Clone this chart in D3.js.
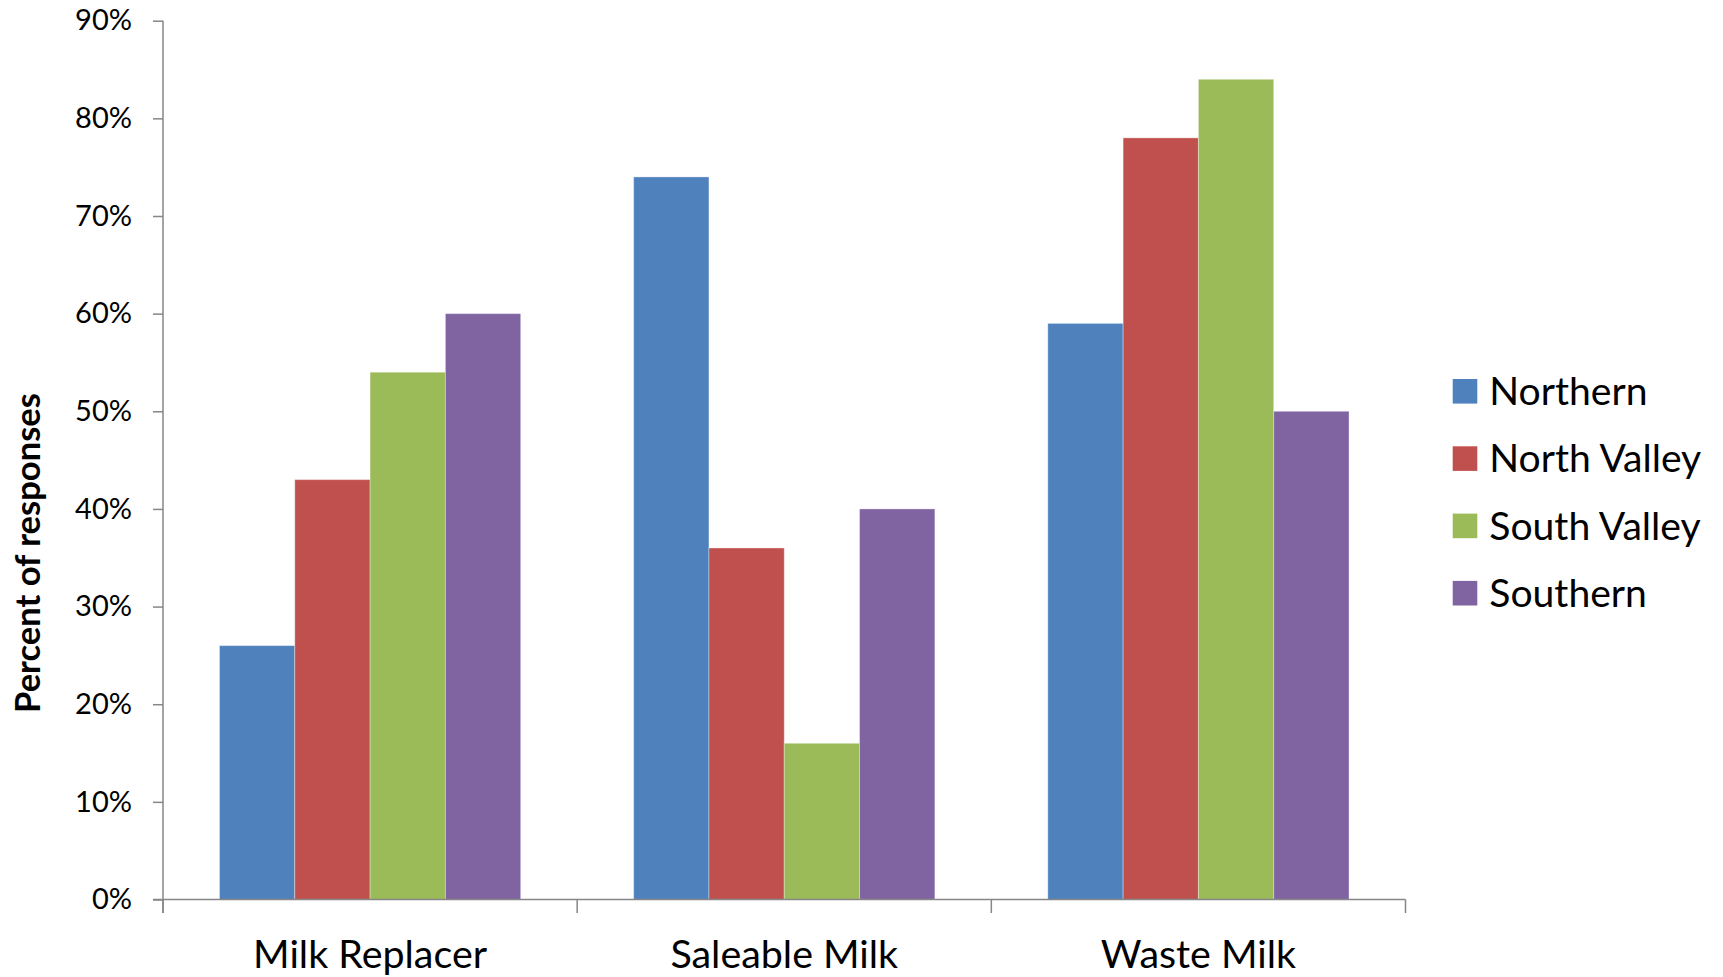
<!DOCTYPE html>
<html>
<head>
<meta charset="utf-8">
<script src="https://cdn.jsdelivr.net/npm/d3@7"></script>
<style>
  html, body { margin: 0; padding: 0; background: #fff; }
  svg { display: block; }
  text { font-family: Lato, "Open Sans", sans-serif; fill: #000; }
</style>
</head>
<body>
<svg id="chart" width="1723" height="977"></svg>
<script>
const categories = ["Milk Replacer", "Saleable Milk", "Waste Milk"];
const seriesNames = ["Northern", "North Valley", "South Valley", "Southern"];
const seriesColors = ["#4F81BD", "#C0504D", "#9BBB59", "#8064A2"];
const northern    = [0.26, 0.74, 0.59];
const northValley = [0.43, 0.36, 0.78];
const southValley = [0.54, 0.16, 0.84];
const southern    = [0.60, 0.40, 0.50];
const seriesValues = [northern, northValley, southValley, southern];
const yTicks = [0, 0.1, 0.2, 0.3, 0.4, 0.5, 0.6, 0.7, 0.8, 0.9];
const yTitle = "Percent of responses";

const svg = d3.select("#chart");
const axisColor = "#868686";

const x0 = d3.scaleBand().domain(categories).range([163, 1405.5]).paddingInner(0).paddingOuter(0);
const x1 = d3.scaleBand().domain(seriesNames).range([0, x0.bandwidth()]).paddingInner(0).paddingOuter(0.75);
const y = d3.scaleLinear().domain([0, 0.9]).range([899.5, 20.7]);

function fit(sel, target) {
  const n = sel.node();
  const base = parseFloat(n.getAttribute("font-size"));
  const w = n.getComputedTextLength();
  return base * target / w;
}

// Bars
const data = [];
categories.forEach((c, ci) => {
  seriesNames.forEach((s, si) => {
    data.push({ cat: c, series: s, value: seriesValues[si][ci], color: seriesColors[si] });
  });
});
svg.append("g").selectAll("rect").data(data).join("rect")
  .attr("x", d => x0(d.cat) + x1(d.series))
  .attr("width", x1.bandwidth())
  .attr("y", d => y(d.value))
  .attr("height", d => y(0) - y(d.value))
  .attr("fill", d => d.color)
  .attr("stroke", "#ffffff")
  .attr("stroke-opacity", 0.35)
  .attr("stroke-width", 1);

// Y axis
const yAxis = svg.append("g")
  .attr("transform", `translate(${x0.range()[0]},0)`)
  .call(d3.axisLeft(y).tickValues(yTicks).tickFormat(d3.format(".0%")).tickSize(10).tickPadding(21));
yAxis.select(".domain").remove();
yAxis.selectAll(".tick line").attr("stroke", axisColor).attr("stroke-width", 1.5);
yAxis.selectAll(".tick text").attr("font-family", "Lato, 'Open Sans', sans-serif").attr("fill", "#000");
{
  const t = yAxis.selectAll(".tick text").filter(d => d === 0.9);
  t.attr("font-size", 30);
  const fs = fit(t, 55) + 1;
  yAxis.selectAll(".tick text").attr("font-size", fs);
}
svg.append("line")
  .attr("x1", x0.range()[0]).attr("x2", x0.range()[0])
  .attr("y1", y(0.9)).attr("y2", y(0) + 13.5)
  .attr("stroke", axisColor).attr("stroke-width", 1.5);

// X axis
svg.append("line")
  .attr("x1", x0.range()[0] - 10).attr("x2", x0.range()[1])
  .attr("y1", y(0)).attr("y2", y(0))
  .attr("stroke", axisColor).attr("stroke-width", 1.5);
const bounds = categories.map(c => x0(c)).concat([x0.range()[1]]);
svg.append("g").selectAll("line").data(bounds).join("line")
  .attr("x1", d => d).attr("x2", d => d)
  .attr("y1", y(0)).attr("y2", y(0) + 13.5)
  .attr("stroke", axisColor).attr("stroke-width", 1.5);

const catLabels = svg.append("g").selectAll("text").data(categories).join("text")
  .attr("x", d => x0(d) + x0.bandwidth() / 2)
  .attr("y", 968)
  .attr("text-anchor", "middle")
  .attr("font-size", 40)
  .text(d => d);
{
  const fs = fit(catLabels.filter(d => d === "Milk Replacer"), 234);
  catLabels.attr("font-size", fs);
}

// Y title
const title = svg.append("text")
  .attr("transform", "translate(40,553) rotate(-90)")
  .attr("text-anchor", "middle")
  .attr("font-weight", "bold")
  .attr("font-size", 36)
  .text(yTitle);
title.attr("font-size", fit(title, 320));

// Legend
const legend = svg.append("g");
const items = legend.selectAll("g").data(seriesNames).join("g")
  .attr("transform", (d, i) => `translate(1452.7, ${379 + i * 67.3})`);
items.append("rect")
  .attr("width", 24.6).attr("height", 24.6)
  .attr("fill", (d, i) => seriesColors[i]);
const legTexts = items.append("text")
  .attr("x", 36.6)
  .attr("y", 12.3)
  .attr("dy", "0.35em")
  .attr("font-size", 40)
  .text(d => d);
{
  const fs = fit(legTexts.filter(d => d === "North Valley"), 212);
  legTexts.attr("font-size", fs);
}
</script>
</body>
</html>
